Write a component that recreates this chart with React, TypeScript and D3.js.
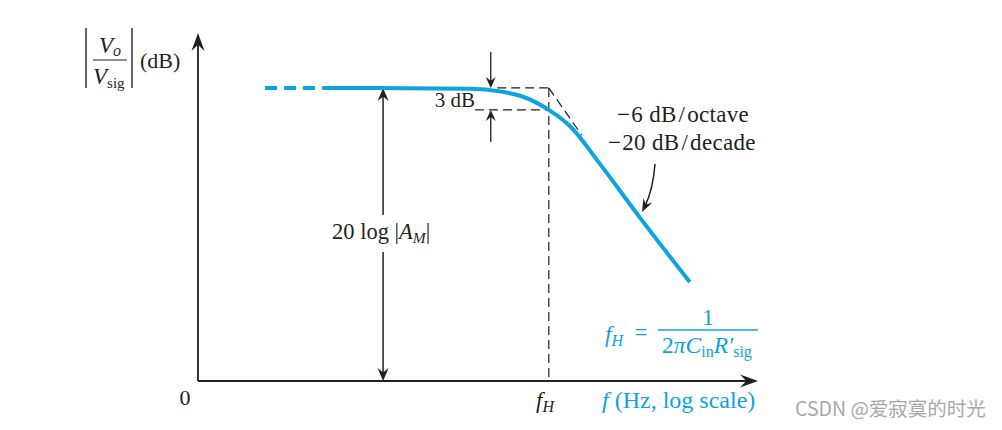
import React from 'react';
import * as d3 from 'd3';

// frequency axis is f / fH, magnitude axis in dB
const F_MIN = 3.5e-4;
const F_MAX = 115;
const DB_MAX = 47.5;
const MID_DB = 40; // 20 log |A_M|

// response (f / fH, drop from midband in dB)
const dashedF = [0.0016, 0.0073];
const dashedDb = [0, 0];
const curveF = [0.0073, 0.17, 0.34, 0.53, 1, 1.64, 3.2, 8, 24.5];
const curveDb = [0, -0.1, -0.5, -1.1, -3, -5.3, -10.4, -17.8, -26.5];

// asymptote and annotation anchors
const asymF = [1, 2.1];
const asymDb = [0, -6.4];
const box3dbTopF = [0.31, 1];
const box3dbBotF = [0.187, 1];
const arrow3dbF = 0.268;
const gainArrowF = 0.0233;

const BLUE = '#0ba3e0';
const INK = '#231f20';
const SERIF = '"Liberation Serif", "DejaVu Serif", serif';

const W = 1002;
const H = 430;

const arrowHead = (x: number, y: number, angle: number, len = 11, wid = 5) => (
  <path
    d={`M0,0 L${-len},${-wid} L${-len * 0.65},0 L${-len},${wid} Z`}
    transform={`translate(${x},${y}) rotate(${angle})`}
    fill={INK}
  />
);

export default function App() {
  const x = d3.scaleLog().domain([F_MIN, F_MAX]).range([198, 758]);
  const y = d3.scaleLinear().domain([0, DB_MAX]).range([381, 33]);

  const line = d3.line<[number, number]>()
    .x(d => x(d[0]))
    .y(d => y(MID_DB + d[1]))
    .curve(d3.curveMonotoneX);

  const dashedPts = dashedF.map((f, i) => [f, dashedDb[i]] as [number, number]);
  const curvePts = curveF.map((f, i) => [f, curveDb[i]] as [number, number]);

  const x0 = x(F_MIN);
  const y0 = y(0);
  const yMid = y(MID_DB);
  const y3 = y(MID_DB - 3);
  const xH = x(1);
  const xA = x(arrow3dbF);
  const xG = x(gainArrowF);

  return (
    <svg width={W} height={H} style={{ position: 'absolute', left: 0, top: 0, background: '#fff' }}
      fontFamily={SERIF}>
      {/* axes */}
      <line x1={x0} y1={y0} x2={x0} y2={y(DB_MAX) + 8} stroke={INK} strokeWidth={1.8} />
      <line x1={x0} y1={y0} x2={x(F_MAX) - 8} y2={y0} stroke={INK} strokeWidth={1.8} />
      {arrowHead(x0, y(DB_MAX), -90, 18, 6.5)}
      {arrowHead(x(F_MAX), y0, 0, 18, 6.5)}

      {/* fH guide and 3 dB box */}
      <line x1={xH} y1={yMid} x2={xH} y2={y0} stroke={INK} strokeWidth={1.2} strokeDasharray="9,5" />
      <line x1={x(box3dbTopF[0])} y1={yMid} x2={x(box3dbTopF[1])} y2={yMid} stroke={INK} strokeWidth={1.2} strokeDasharray="9,5" />
      <line x1={x(box3dbBotF[0])} y1={y3} x2={x(box3dbBotF[1])} y2={y3} stroke={INK} strokeWidth={1.2} strokeDasharray="9,5" />
      <line x1={x(asymF[0])} y1={y(MID_DB + asymDb[0])} x2={x(asymF[1])} y2={y(MID_DB + asymDb[1])}
        stroke={INK} strokeWidth={1.2} strokeDasharray="9,5" />

      {/* 3 dB arrows */}
      <line x1={xA} y1={52} x2={xA} y2={yMid - 2} stroke={INK} strokeWidth={1.3} />
      {arrowHead(xA, yMid, 90, 11, 5)}
      <line x1={xA} y1={142} x2={xA} y2={y3 + 2} stroke={INK} strokeWidth={1.3} />
      {arrowHead(xA, y3, -90, 11, 5)}
      <text x={455} y={107} fontSize={21} fill={INK} textAnchor="middle">3 dB</text>

      {/* midband gain double arrow */}
      <line x1={xG} y1={yMid + 4} x2={xG} y2={y0 - 4} stroke={INK} strokeWidth={1.5} />
      {arrowHead(xG, yMid, -90, 13, 5.5)}
      {arrowHead(xG, y0, 90, 13, 5.5)}
      <rect x={327} y={215} width={112} height={37} fill="#fff" />
      <text x={332} y={239} fontSize={22.5} fill={INK}>
        20 log |<tspan fontStyle="italic">A</tspan>
        <tspan fontStyle="italic" fontSize={15.5} dy={4}>M</tspan>
        <tspan dy={-4}>|</tspan>
      </text>

      {/* response */}
      <path d={line(dashedPts) || ''} fill="none" stroke={BLUE} strokeWidth={4} strokeDasharray="12,7" />
      <path d={line(curvePts) || ''} fill="none" stroke={BLUE} strokeWidth={4} strokeLinecap="butt" />

      {/* slope labels */}
      <text x={617} y={122} fontSize={23} fill={INK} letterSpacing={0.3}>
        −<tspan dx={1}>6 dB</tspan><tspan dx={2}>/</tspan><tspan dx={2}>octave</tspan>
      </text>
      <text x={608} y={150} fontSize={23} fill={INK} letterSpacing={0.3}>
        −<tspan dx={1}>20 dB</tspan><tspan dx={2}>/</tspan><tspan dx={2}>decade</tspan>
      </text>
      <path d="M655,164 Q653,190 645,206" fill="none" stroke={INK} strokeWidth={1.5} />
      {arrowHead(642, 212, 117, 13, 5)}

      {/* y label */}
      <line x1={86} y1={28} x2={86} y2={88} stroke={INK} strokeWidth={1.4} />
      <line x1={132} y1={28} x2={132} y2={88} stroke={INK} strokeWidth={1.4} />
      <line x1={93} y1={60} x2={127} y2={60} stroke={INK} strokeWidth={1.2} />
      <text x={99} y={53} fontSize={23} fill={INK}>
        <tspan fontStyle="italic">V</tspan>
        <tspan fontStyle="italic" fontSize={16} dy={3}>o</tspan>
      </text>
      <text x={93} y={84} fontSize={23} fill={INK}>
        <tspan fontStyle="italic">V</tspan>
        <tspan fontSize={15} dy={4}>sig</tspan>
      </text>
      <text x={140} y={68} fontSize={22} fill={INK}>(dB)</text>

      {/* axis labels */}
      <text x={185} y={405} fontSize={22} fill={INK} textAnchor="middle">0</text>
      <text x={536} y={408} fontSize={23} fill={INK}>
        <tspan fontStyle="italic">f</tspan>
        <tspan fontStyle="italic" fontSize={16} dy={4}>H</tspan>
      </text>
      <text x={602} y={408} fontSize={24} fill={BLUE}>
        <tspan fontStyle="italic">f</tspan> (Hz, log scale)
      </text>

      {/* fH formula */}
      <text x={605} y={342} fontSize={23} fill={BLUE}>
        <tspan fontStyle="italic">f</tspan>
        <tspan fontStyle="italic" fontSize={16} dy={4}>H</tspan>
      </text>
      <text x={641} y={340} fontSize={23} fill={BLUE} textAnchor="middle">=</text>
      <line x1={658} y1={330} x2={758} y2={330} stroke={BLUE} strokeWidth={1.3} />
      <text x={708} y={325} fontSize={23} fill={BLUE} textAnchor="middle">1</text>
      <text x={662} y={353} fontSize={23.5} fill={BLUE}>
        2<tspan fontStyle="italic">πC</tspan>
        <tspan fontSize={16} dy={4}>in</tspan>
        <tspan fontStyle="italic" dy={-4}>R′</tspan>
        <tspan fontSize={16} dy={4}>sig</tspan>
      </text>

      {/* watermark */}
      <text x={795} y={416} fontSize={19.5} fill="#a8a8a8"
        fontFamily='"Noto Sans CJK SC", "Noto Sans", sans-serif'>CSDN @爱寂寞的时光</text>
    </svg>
  );
}
